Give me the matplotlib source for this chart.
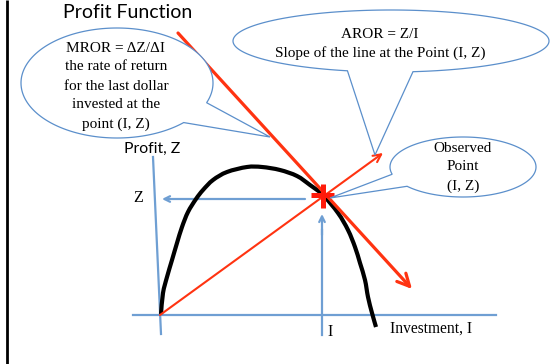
import numpy as np
import matplotlib
matplotlib.use("Agg")
import matplotlib.pyplot as plt
from matplotlib.patches import Polygon, PathPatch
from matplotlib.path import Path

# diagram geometry, in pixel units of the 550x364 picture (y grows downward)
origin = (160, 315)

# profit curve
curve_x = [161, 163, 167, 172, 177, 182, 188, 196, 203, 213, 227, 247, 262,
           280, 297, 310, 323, 338, 348, 355, 360, 365, 368, 372, 376]
curve_y = [314, 293, 277, 260, 243, 227, 212, 199, 190, 180, 172, 167, 167,
           170, 176, 185, 195, 213, 230, 247, 263, 280, 297, 313, 327]

# red lines: AROR (origin -> beyond point) and MROR tangent
aror_end = (383, 153)
mror_start = (178, 33)
mror_end = (412, 289)

# bubbles: centre, half-width, half-height, gap angles (deg), tail tip, lines
bubbles = [
    dict(c=(117, 83), a=96, b=55, gap=(21, 46), tip=(270, 137),
         lines=["MROR = \u0394Z/\u0394I", "the rate of return",
                "for the last dollar", "invested at the", "point (I, Z)"],
         ty=[48, 67, 86, 105, 124], tx=116),
    dict(c=(391, 41), a=158, b=31, gap=(82, 106), tip=(375, 155),
         lines=["AROR = Z/I", "Slope of the line at the Point (I, Z)"],
         ty=[35, 53], tx=380),
    dict(c=(463, 167), a=73, b=30, gap=(140, 166), tip=(330, 198),
         lines=["Observed", "Point", "(I, Z)"],
         ty=[148, 167, 186], tx=463),
]

blue = "#6f9fd3"
edge_blue = "#5b8fcb"
red = "#ff3311"
serif = "Liberation Serif"
sans = "Lato"


def smooth_path(xs, ys):
    # Catmull-Rom through the read points, as cubic Bezier segments
    p = np.column_stack([xs, ys]).astype(float)
    p = np.vstack([p[0], p, p[-1]])
    verts = [p[1]]
    codes = [Path.MOVETO]
    for i in range(1, len(p) - 2):
        c1 = p[i] + (p[i + 1] - p[i - 1]) / 6
        c2 = p[i + 1] - (p[i + 2] - p[i]) / 6
        verts += [c1, c2, p[i + 1]]
        codes += [Path.CURVE4] * 3
    return Path(verts, codes)


fig = plt.figure(figsize=(5.5, 3.64), dpi=100)
ax = fig.add_axes([0, 0, 1, 1])
ax.set_xlim(0, 550)
ax.set_ylim(364, 0)
ax.axis("off")

# left frame line
ax.plot([7, 7], [0, 364], color="black", lw=2.0, solid_capstyle="butt")

ax.text(63, 12, "Profit Function", fontsize=14, family=sans,
        ha="left", va="center")

# axes of the diagram
ax.plot([133, 496], [315, 315], color=blue, lw=1.6)
ax.plot([153, 161], [157, 334], color=blue, lw=1.6)
ax.plot([322, 322], [230, 335], color=blue, lw=1.6)
ax.annotate("", xy=(322, 214), xytext=(322, 235),
            arrowprops=dict(arrowstyle="->", color=blue, lw=1.6,
                            shrinkA=0, shrinkB=0, mutation_scale=10))
ax.annotate("", xy=(162, 199), xytext=(305, 199),
            arrowprops=dict(arrowstyle="->", color=blue, lw=1.6,
                            shrinkA=0, shrinkB=0, mutation_scale=10))

ax.text(152, 149, "Profit, Z", fontsize=11.3, family=sans, ha="center", va="center")
ax.text(138, 198, "Z", fontsize=11.5, family=serif, ha="center", va="center")
ax.text(330, 332, "I", fontsize=11.5, family=serif, ha="center", va="center")
ax.text(390, 329, "Investment, I", fontsize=11.2, family=serif, ha="left", va="center")

# profit curve
ax.add_patch(PathPatch(smooth_path(curve_x, curve_y), facecolor="none",
                       edgecolor="black", lw=3.0, capstyle="butt", zorder=3))

# red lines
ax.annotate("", xy=aror_end, xytext=origin, zorder=4,
            arrowprops=dict(arrowstyle="->", color=red, lw=1.5,
                            shrinkA=0, shrinkB=0, mutation_scale=14))
ax.annotate("", xy=mror_end, xytext=mror_start, zorder=4,
            arrowprops=dict(arrowstyle="->", color=red, lw=2.3,
                            shrinkA=0, shrinkB=0, mutation_scale=22))

# observed point marker
ax.plot([311, 334], [195, 195], color="#ff1a0a", lw=3.6, zorder=5,
        solid_capstyle="butt")
ax.plot([323, 323], [184, 208], color="#ff1a0a", lw=3.6, zorder=5,
        solid_capstyle="butt")

# speech bubbles
for bb in bubbles:
    cx, cy = bb["c"]
    g1, g2 = np.radians(bb["gap"])
    t = np.linspace(g2, g1 + 2 * np.pi, 200)
    px = list(cx + bb["a"] * np.cos(t)) + [bb["tip"][0]]
    py = list(cy + bb["b"] * np.sin(t)) + [bb["tip"][1]]
    ax.add_patch(Polygon(np.column_stack([px, py]), closed=True,
                         facecolor="white", edgecolor=edge_blue, lw=0.9,
                         zorder=6))
    for s, yy in zip(bb["lines"], bb["ty"]):
        ax.text(bb["tx"], yy, s, fontsize=11, family=serif, ha="center",
                va="center", zorder=7)

fig.savefig("out.png", dpi=100)
